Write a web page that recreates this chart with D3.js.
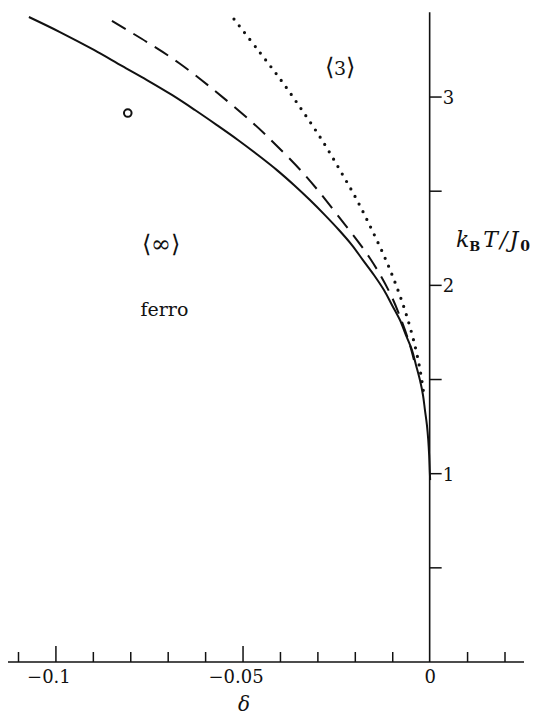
<!DOCTYPE html>
<html>
<head>
<meta charset="utf-8">
<script src="https://cdn.jsdelivr.net/npm/d3@7"></script>
<style>
  html, body { margin: 0; padding: 0; background: #fff; }
  svg { display: block; }
  text { font-family: "DejaVu Serif", "Liberation Serif", serif; fill: #111; }
</style>
</head>
<body>
<svg id="chart" width="537" height="717"></svg>
<script>
// Phase boundaries: reduced temperature kT/J0 against delta
const solidBoundary = [
  [-0.10722, 3.425], [-0.09893, 3.345], [-0.08984, 3.250], [-0.08236, 3.165],
  [-0.07568, 3.090], [-0.06900, 3.011], [-0.06285, 2.931], [-0.05698, 2.851],
  [-0.05136, 2.772], [-0.04602, 2.692], [-0.04094, 2.612], [-0.03640, 2.533],
  [-0.03212, 2.453], [-0.02811, 2.373], [-0.02437, 2.294], [-0.02090, 2.214],
  [-0.01796, 2.134], [-0.01502, 2.055], [-0.01235, 1.975], [-0.01021, 1.896],
  [-0.00807, 1.816], [-0.00647, 1.736], [-0.00486, 1.657], [-0.00379, 1.577],
  [-0.00273, 1.497], [-0.00192, 1.418], [-0.00139, 1.338], [-0.00086, 1.258],
  [-0.00051, 1.179], [-0.00027, 1.099], [-0.00011, 1.019], [0.0, 0.966]
];
const dashedBoundary = [
  [-0.08503, 3.404], [-0.07568, 3.292], [-0.06713, 3.181], [-0.05777, 3.037],
  [-0.04736, 2.862], [-0.04281, 2.777], [-0.03346, 2.586], [-0.02518, 2.384],
  [-0.01609, 2.144], [-0.01074, 1.959], [-0.00740, 1.800], [-0.00540, 1.683],
  [-0.00433, 1.604]
];
const dottedBoundary = [
  [-0.05242, 3.414], [-0.04602, 3.250], [-0.03987, 3.090], [-0.03426, 2.931],
  [-0.02892, 2.772], [-0.02410, 2.612], [-0.01956, 2.453], [-0.01555, 2.294],
  [-0.01181, 2.134], [-0.00861, 1.975], [-0.00593, 1.816], [-0.00379, 1.657],
  [-0.00246, 1.524], [-0.00166, 1.418]
];

// Axis ticks
const xMajorTicks = [-0.1, -0.05, 0];
const xMajorLabels = ["\u22120.1", "\u22120.05", "0"];
const xMinorTicks = [-0.11, -0.09, -0.08, -0.07, -0.06, -0.04, -0.03, -0.02, -0.01, 0.01, 0.02];
const yMajorTicks = [1, 2, 3];
const yMajorLabels = ["1", "2", "3"];
const yMinorTicks = [0.5, 1.5, 2.5];

// Phase labels placed in data coordinates
const phaseLabels = [
  { inner: "\u221E", size: 24, d: -0.0720, t: 2.177 },
  { inner: "3", size: 19, d: -0.0241, t: 3.117 }
];
const ferroLabel = { text: "ferro", d: -0.0710, t: 1.838 };
const ringMarker = { d: -0.0808, t: 2.915 };

const svg = d3.select("#chart");
const x = d3.scaleLinear().domain([-0.11, 0.02]).range([18.5, 505]);
const y = d3.scaleLinear().domain([0, 3.45]).range([662, 12.3]);

const ink = "#111";

// Horizontal delta axis
const xAxisY = y(0);
svg.append("line")
  .attr("x1", 8).attr("x2", 524)
  .attr("y1", xAxisY).attr("y2", xAxisY)
  .attr("stroke", ink).attr("stroke-width", 1.6);

svg.append("g").selectAll("line").data(xMinorTicks).join("line")
  .attr("x1", d => x(d)).attr("x2", d => x(d))
  .attr("y1", xAxisY).attr("y2", xAxisY - 10)
  .attr("stroke", ink).attr("stroke-width", 1.5);

svg.append("g").selectAll("line").data(xMajorTicks.filter(d => d !== 0)).join("line")
  .attr("x1", d => x(d)).attr("x2", d => x(d))
  .attr("y1", xAxisY).attr("y2", xAxisY - 16)
  .attr("stroke", ink).attr("stroke-width", 1.5);

svg.append("g").selectAll("text").data(xMajorTicks).join("text")
  .attr("x", d => x(d))
  .attr("dx", d => d < 0 ? -7 : 0)
  .attr("y", xAxisY + 21)
  .attr("text-anchor", "middle")
  .attr("font-size", 18)
  .text((d, i) => xMajorLabels[i]);

svg.append("text")
  .attr("x", 244).attr("y", 711)
  .attr("text-anchor", "middle")
  .attr("font-size", 20)
  .attr("font-style", "italic")
  .text("\u03B4");

// Vertical temperature axis at delta = 0
const yAxisX = x(0) - 0.5;
svg.append("line")
  .attr("x1", yAxisX).attr("x2", yAxisX)
  .attr("y1", y(3.45)).attr("y2", xAxisY)
  .attr("stroke", ink).attr("stroke-width", 1.6);

svg.append("g").selectAll("line").data(yMajorTicks.concat(yMinorTicks)).join("line")
  .attr("x1", yAxisX).attr("x2", yAxisX + 12)
  .attr("y1", d => y(d)).attr("y2", d => y(d))
  .attr("stroke", ink).attr("stroke-width", 1.5);

svg.append("g").selectAll("text").data(yMajorTicks).join("text")
  .attr("x", yAxisX + 13)
  .attr("y", d => y(d) + 7)
  .attr("font-size", 18)
  .text((d, i) => yMajorLabels[i]);

// Axis title kB T / J0
const title = svg.append("text")
  .attr("x", 456).attr("y", 247)
  .attr("font-size", 22);
title.append("tspan").attr("font-style", "italic").text("k");
title.append("tspan").attr("font-size", 13).attr("font-weight", "bold").attr("dy", 4).text("B");
title.append("tspan").attr("font-style", "italic").attr("dy", -4).attr("dx", 3).text("T");
title.append("tspan").attr("font-style", "italic").attr("dx", 2).text("/");
title.append("tspan").attr("font-style", "italic").attr("dx", 2).text("J");
title.append("tspan").attr("font-size", 14).attr("font-weight", "bold").attr("dy", 4).attr("dx", 2).text("0");

// Boundary curves
const line = d3.line()
  .x(d => x(d[0]))
  .y(d => y(d[1]))
  .curve(d3.curveCatmullRom.alpha(0.5));

svg.append("path")
  .datum(solidBoundary)
  .attr("d", line)
  .attr("fill", "none")
  .attr("stroke", ink)
  .attr("stroke-width", 2);

svg.append("path")
  .datum(dashedBoundary)
  .attr("d", line)
  .attr("fill", "none")
  .attr("stroke", ink)
  .attr("stroke-width", 2)
  .attr("stroke-dasharray", "16,9");

svg.append("path")
  .datum(dottedBoundary)
  .attr("d", line)
  .attr("fill", "none")
  .attr("stroke", ink)
  .attr("stroke-width", 3.2)
  .attr("stroke-linecap", "round")
  .attr("stroke-dasharray", "0,8.6");

// Phase labels in angle brackets
const bracketLabels = svg.append("g").selectAll("text").data(phaseLabels).join("text")
  .attr("x", d => x(d.d))
  .attr("y", d => y(d.t))
  .attr("text-anchor", "middle")
  .attr("font-size", 19);
bracketLabels.append("tspan").attr("font-family", "DejaVu Sans").attr("font-size", 24).attr("font-weight", 200).text("\u27E8");
bracketLabels.append("tspan").attr("font-size", d => d.size).text(d => d.inner);
bracketLabels.append("tspan").attr("font-family", "DejaVu Sans").attr("font-size", 24).attr("font-weight", 200).text("\u27E9");

svg.append("text")
  .attr("x", x(ferroLabel.d))
  .attr("y", y(ferroLabel.t))
  .attr("text-anchor", "middle")
  .attr("font-size", 19)
  .text(ferroLabel.text);

svg.append("circle")
  .attr("cx", x(ringMarker.d))
  .attr("cy", y(ringMarker.t))
  .attr("r", 3.8)
  .attr("fill", "none")
  .attr("stroke", ink)
  .attr("stroke-width", 2);
</script>
</body>
</html>
